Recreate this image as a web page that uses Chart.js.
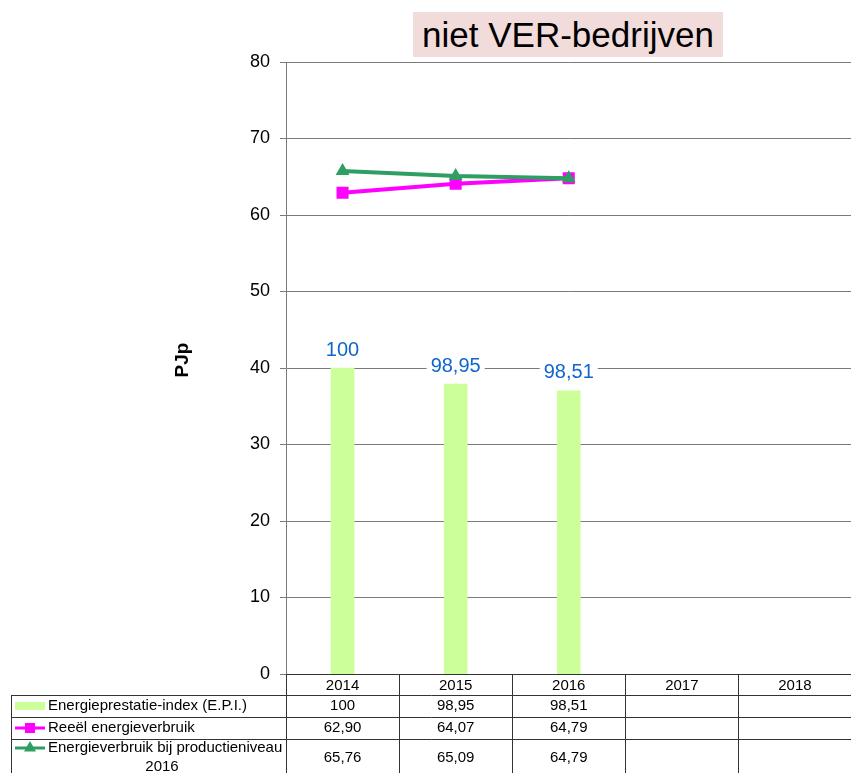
<!DOCTYPE html>
<html>
<head>
<meta charset="utf-8">
<script src="https://cdn.jsdelivr.net/npm/chart.js@4.4.1/dist/chart.umd.min.js"></script>
<style>
  html, body { margin: 0; padding: 0; background: #fff; overflow: hidden; }
  #wrap { position: relative; width: 851px; height: 773px; overflow: hidden; }
  canvas { position: absolute; left: 0; top: 0; }
  #title {
    position: absolute; left: 413px; top: 12px; width: 310px; height: 45px;
    background: #f2dcdb; color: #000;
    font: 35px "Liberation Sans", Arial, sans-serif;
    line-height: 45px; text-align: center; white-space: nowrap;
  }
</style>
</head>
<body>
<div id="wrap">
  <canvas id="c" width="860" height="773"></canvas>
  <div id="title">niet VER-bedrijven</div>
</div>
<script>
// ---- data ----
const years = ['2014', '2015', '2016', '2017', '2018'];
const epi = [100, 98.95, 98.51, null, null];
const reeel = [62.90, 64.07, 64.79, null, null];
const productie = [65.76, 65.09, 64.79, null, null];
const seriesNames = ['Energieprestatie-index (E.P.I.)', 'Reeël energieverbruik', 'Energieverbruik bij productieniveau 2016'];
const yTicks = [0, 10, 20, 30, 40, 50, 60, 70, 80];
const yTitle = 'PJp';

const FONT = '"Liberation Sans", Arial, sans-serif';
const fmt = v => (v === null || v === undefined) ? '' : (Number.isInteger(v) ? String(v) : v.toFixed(2).replace('.', ','));

const COL_EPI = '#ccff99';
const COL_PINK = '#ff00ff';
const COL_GREEN = '#2e9e62';

function drawSquare(ctx, x, y, s, color) {
  ctx.fillStyle = color; ctx.fillRect(x - s / 2, y - s / 2, s, s);
}
function drawTri(ctx, x, y, s, color) {
  ctx.fillStyle = color;
  ctx.beginPath();
  ctx.moveTo(x, y - s * 0.6);
  ctx.lineTo(x + s * 0.6, y + s * 0.45);
  ctx.lineTo(x - s * 0.6, y + s * 0.45);
  ctx.closePath(); ctx.fill();
}

const labelPlugin = {
  id: 'barLabels',
  afterDatasetsDraw(chart) {
    const ctx = chart.ctx;
    const meta = chart.getDatasetMeta(2);
    ctx.save();
    ctx.font = '20px ' + FONT;
    ctx.textAlign = 'center';
    ctx.textBaseline = 'middle';
    meta.data.forEach((bar, i) => {
      const v = epi[i];
      if (v === null) return;
      const t = fmt(v);
      const w = ctx.measureText(t).width;
      const y = bar.y - 18;
      ctx.fillStyle = '#fff';
      ctx.fillRect(bar.x - w / 2 - 4, y - 11, w + 8, 22);
      ctx.fillStyle = '#1166cc';
      ctx.fillText(t, bar.x, y);
    });
    ctx.restore();
  }
};

const tablePlugin = {
  id: 'dataTable',
  afterDraw(chart) {
    const ctx = chart.ctx;
    const area = chart.chartArea;
    const xs = chart.scales.x;
    const n = years.length;
    const colW = (area.right - area.left) / n;
    const left = 11;
    const rows = [area.bottom, 695, 717, 739, 800];
    ctx.save();
    ctx.strokeStyle = '#333';
    ctx.lineWidth = 1;
    ctx.beginPath();
    ctx.moveTo(area.left, rows[0] + 0.5); ctx.lineTo(area.right, rows[0] + 0.5);
    for (let r = 1; r <= 3; r++) {
      ctx.moveTo(left, rows[r] + 0.5); ctx.lineTo(area.right, rows[r] + 0.5);
    }
    ctx.moveTo(left + 0.5, rows[1]); ctx.lineTo(left + 0.5, 773);
    for (let i = 0; i <= n; i++) {
      const x = Math.round(area.left + i * colW) + 0.5;
      ctx.moveTo(x, rows[0]); ctx.lineTo(x, 773);
    }
    ctx.stroke();

    ctx.fillStyle = '#000';
    ctx.font = '15px ' + FONT;
    ctx.textAlign = 'center';
    ctx.textBaseline = 'middle';
    years.forEach((y, i) => ctx.fillText(y, xs.getPixelForValue(i), 686));
    const series = [epi, reeel, productie];
    const centers = [706, 728, 758];
    series.forEach((arr, r) => {
      arr.forEach((v, i) => ctx.fillText(fmt(v), xs.getPixelForValue(i), centers[r]));
    });
    ctx.textAlign = 'left';
    ctx.fillText(seriesNames[0], 48, 706);
    ctx.fillText(seriesNames[1], 48, 728);
    ctx.fillText('Energieverbruik bij productieniveau', 48, 748);
    ctx.textAlign = 'center';
    ctx.fillText('2016', 162, 767);
    ctx.fillStyle = COL_EPI;
    ctx.fillRect(15, 702, 30, 8);
    ctx.strokeStyle = COL_PINK; ctx.lineWidth = 3;
    ctx.beginPath(); ctx.moveTo(15, 728); ctx.lineTo(45, 728); ctx.stroke();
    drawSquare(ctx, 30, 728, 10, COL_PINK);
    ctx.strokeStyle = COL_GREEN;
    ctx.beginPath(); ctx.moveTo(15, 748); ctx.lineTo(45, 748); ctx.stroke();
    drawTri(ctx, 30, 747, 10, COL_GREEN);

    ctx.save();
    ctx.translate(183, 360);
    ctx.rotate(-Math.PI / 2);
    ctx.font = 'bold 19px ' + FONT;
    ctx.fillStyle = '#000';
    ctx.textAlign = 'center';
    ctx.textBaseline = 'middle';
    ctx.fillText(yTitle, 0, 0);
    ctx.restore();
    ctx.restore();
  }
};

new Chart(document.getElementById('c'), {
  type: 'bar',
  data: {
    labels: years,
    datasets: [
      {
        type: 'line', label: seriesNames[2], data: productie, yAxisID: 'y', order: 0,
        borderColor: COL_GREEN, backgroundColor: COL_GREEN, borderWidth: 4,
        pointStyle: 'triangle', pointRadius: 8, pointBorderWidth: 0, tension: 0, spanGaps: false
      },
      {
        type: 'line', label: seriesNames[1], data: reeel, yAxisID: 'y', order: 1,
        borderColor: COL_PINK, backgroundColor: COL_PINK, borderWidth: 4,
        pointStyle: 'rect', pointRadius: 8.5, pointBorderWidth: 0, tension: 0, spanGaps: false
      },
      {
        type: 'bar', label: seriesNames[0], data: epi, yAxisID: 'y2', order: 2,
        backgroundColor: COL_EPI, borderWidth: 0, barThickness: 23
      }
    ]
  },
  options: {
    responsive: false,
    animation: false,
    devicePixelRatio: 1,
    layout: { padding: { top: 62, bottom: 99, left: 0, right: 0 } },
    plugins: { legend: { display: false }, tooltip: { enabled: false }, title: { display: false } },
    scales: {
      x: { display: false, offset: true, grid: { display: false } },
      y: {
        position: 'left', min: 0, max: 80,
        afterFit: s => { s.width = 286; },
        afterBuildTicks: s => { s.ticks = yTicks.map(v => ({ value: v })); },
        ticks: { color: '#000', font: { family: FONT, size: 18 }, padding: 10 },
        grid: { color: '#7a7a7a', lineWidth: 1, tickLength: 6, drawTicks: true },
        border: { color: '#7a7a7a', width: 1 }
      },
      y2: { display: false, min: 80, max: 120 }
    }
  },
  plugins: [labelPlugin, tablePlugin]
});
</script>
</body>
</html>
